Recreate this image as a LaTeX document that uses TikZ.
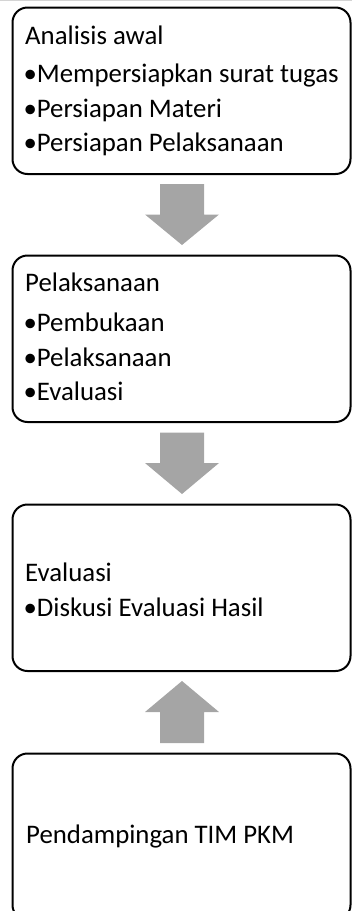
\documentclass[tikz,border=0pt]{standalone}
\usepackage{fontspec}
\setmainfont{Carlito}
\definecolor{arrowgray}{HTML}{A5A5A5}
\definecolor{edgegray}{HTML}{D4D4D4}
\tikzset{
  stagebox/.style={draw=black, line width=2pt, rounded corners=15pt, fill=white,
    minimum width=338pt, minimum height=166.5pt, inner sep=0pt},
  txt/.style={anchor=base west, inner sep=0pt, font=\fontsize{26.8pt}{30pt}\selectfont, text=black},
  blockarrow/.style={fill=arrowgray, draw=none}
}
\newcommand{\bul}{\makebox[11.7pt][l]{\hspace{-1.5pt}•}}
\begin{document}
\begin{tikzpicture}[x=1pt,y=-1pt]
\useasboundingbox (0,0) rectangle (352,911);
\begin{scope}
\clip (0,0) rectangle (352,911);
\draw[edgegray, line width=1pt] (0,0.75) -- (352,0.75);
% boxes
\node[stagebox] (b1) at (181.5, 90.75) {};
\node[stagebox] (b2) at (181.5, 338.75) {};
\node[stagebox] (b3) at (181.5, 587.75) {};
\node[stagebox] (b4) at (181.5, 836.75) {};
% box 1 text
\node[txt] (t11) at (25, 44.3) {Analisis awal};
\node[txt] (t12) at (25, 82.9) {\bul Mempersiapkan surat tugas};
\node[txt] (t13) at (25, 117.2) {\bul Persiapan Materi};
\node[txt] (t14) at (25, 151.7) {\bul Persiapan Pelaksanaan};
% box 2 text
\node[txt] (t21) at (25, 291.7) {Pelaksanaan};
\node[txt] (t22) at (25, 331.2) {\bul Pembukaan};
\node[txt] (t23) at (25, 366.2) {\bul Pelaksanaan};
\node[txt] (t24) at (25, 400.2) {\bul Evaluasi};
% box 3 text
\node[txt] (t31) at (25, 581.7) {Evaluasi};
\node[txt] (t32) at (25, 616.7) {\bul Diskusi Evaluasi Hasil};
% box 4 text
\node[txt] (t41) at (26, 843.3) {Pendampingan TIM PKM};
% block arrows
\fill[blockarrow] (160,184) -- (204,184) -- (204,214.5) -- (219,214.5) -- (182,245) -- (145,214.5) -- (160,214.5) -- cycle;
\fill[blockarrow] (160,432.5) -- (204,432.5) -- (204,463) -- (219,463) -- (182,494) -- (145,463) -- (160,463) -- cycle;
\fill[blockarrow] (160,743) -- (204,743) -- (204,712) -- (219,712) -- (182,681) -- (145,712) -- (160,712) -- cycle;
\end{scope}
\end{tikzpicture}
\end{document}
